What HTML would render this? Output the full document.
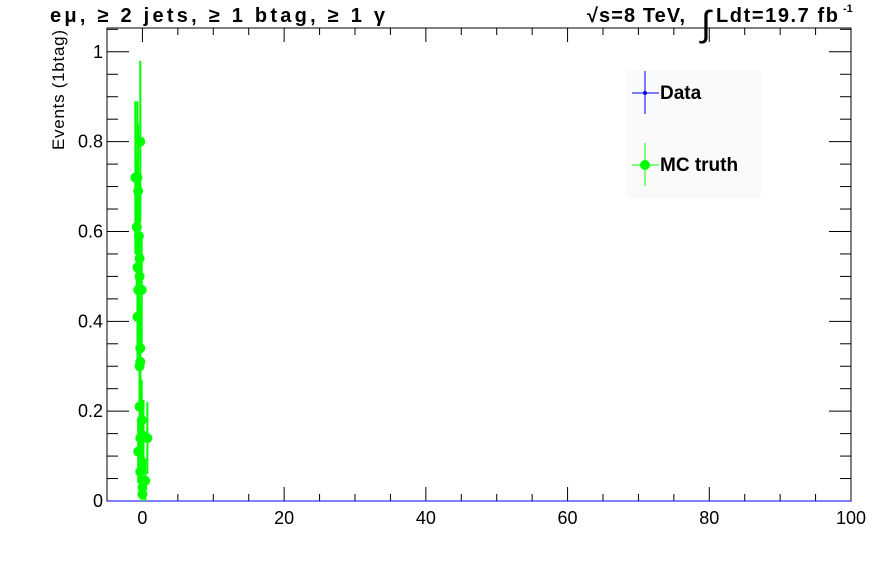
<!DOCTYPE html>
<html><head><meta charset="utf-8"><style>
html,body{margin:0;padding:0;background:#fff;}
svg{display:block;font-family:"Liberation Sans",sans-serif;}
</style></head><body>
<svg id="c" width="896" height="572" xmlns="http://www.w3.org/2000/svg">
<rect x="0" y="0" width="896" height="572" fill="#fff"/>
<text x="50" y="22" font-size="20" font-weight="bold" textLength="335" lengthAdjust="spacing">eμ, ≥ 2 jets, ≥ 1 btag, ≥ 1 γ</text>
<text x="587" y="22" font-size="20" font-weight="bold" textLength="98" lengthAdjust="spacing">√s=8 TeV,</text>
<text x="701" y="36" font-size="36">∫</text>
<text x="716" y="22" font-size="20" font-weight="bold" textLength="122" lengthAdjust="spacing">Ldt=19.7 fb</text>
<text x="843" y="12" font-size="11" font-weight="bold">-1</text>
<text transform="translate(64,150) rotate(-90)" font-size="17" textLength="120" lengthAdjust="spacing">Events (1btag)</text>
<g id="axes"></g>
<g id="marks"></g>
<g>
<rect x="627" y="70" width="134" height="128" fill="#fafafa"/>
<line x1="632" y1="93" x2="659" y2="93" stroke="#00f"/>
<line x1="645" y1="71" x2="645" y2="114" stroke="#00f"/>
<circle cx="645" cy="93" r="2" fill="#00f"/>
<text x="660" y="99" font-size="19" font-weight="bold">Data</text>
<line x1="632" y1="165" x2="659" y2="165" stroke="#0f0"/>
<line x1="645" y1="143" x2="645" y2="186" stroke="#0f0"/>
<circle cx="645" cy="165" r="5" fill="#0f0"/>
<text x="660" y="171" font-size="19" font-weight="bold">MC truth</text>
</g>
</svg>
<script>
const xTicks=[0,20,40,60,80,100];
const yTicks=[0,0.2,0.4,0.6,0.8,1];
const yTickLabels=["0","0.2","0.4","0.6","0.8","1"];
const mcX=[-0.3,-0.7,-1.0,-0.6,-0.8,-0.5,-0.4,-0.7,-0.4,-0.6,-0.1,-0.7,-0.3,-0.3,-0.4,-0.4,-0.1,0.15,-0.3,0.7,-0.6,-0.3,0.0,0.4,0.0,0.0];
const mcY=[0.80,0.72,0.72,0.69,0.61,0.59,0.54,0.52,0.50,0.47,0.47,0.41,0.34,0.31,0.30,0.21,0.18,0.145,0.14,0.14,0.11,0.065,0.045,0.045,0.03,0.015];
const mcErr=[0.18,0.17,0.17,0.15,0.15,0.14,0.13,0.13,0.12,0.12,0.12,0.12,0.1,0.1,0.1,0.09,0.09,0.08,0.08,0.08,0.07,0.06,0.05,0.05,0.04,0.03];
const L=107,R=851,T=28,B=501;
const X0=-5,X1=100,Y0=0,Y1=1.053;
const sx=v=>L+(v-X0)/(X1-X0)*(R-L);
const sy=v=>B-(v-Y0)/(Y1-Y0)*(B-T);
const NS="http://www.w3.org/2000/svg";
function mk(t,a,p){const e=document.createElementNS(NS,t);for(const k in a)e.setAttribute(k,a[k]);p.appendChild(e);return e;}
const ax=document.getElementById('axes');
const fr=mk('rect',{x:L,y:T,width:R-L,height:B-T,fill:'none',stroke:'#000'},ax);


for(let v=X0;v<=X1;v+=5){const maj=v%20===0;const len=maj?14:7;
mk('line',{x1:sx(v),y1:B,x2:sx(v),y2:B-len,stroke:'#000'},ax);
mk('line',{x1:sx(v),y1:T,x2:sx(v),y2:T+len,stroke:'#000'},ax);}
xTicks.forEach(v=>{const t=mk('text',{x:sx(v),y:B+23,'font-size':18,'text-anchor':'middle'},ax);t.textContent=v;

});
for(let i=0;i<=21;i++){const v=i*0.05;if(v>Y1)break;const maj=i%4===0;const len=maj?22:11;
mk('line',{x1:L,y1:sy(v),x2:L+len,y2:sy(v),stroke:'#000'},ax);
mk('line',{x1:R,y1:sy(v),x2:R-len,y2:sy(v),stroke:'#000'},ax);}
yTicks.forEach((v,i)=>{const t=mk('text',{x:L-4,y:sy(v)+6,'font-size':18,'text-anchor':'end'},ax);t.textContent=yTickLabels[i];

});
const mg=document.getElementById('marks');
const dl=mk('line',{x1:L,y1:sy(0),x2:R,y2:sy(0),stroke:'#00f'},mg);


mcX.forEach((x,i)=>{const g=mk('g',{},mg);


mk('line',{x1:sx(x),y1:sy(Math.max(0,mcY[i]-mcErr[i])),x2:sx(x),y2:sy(mcY[i]+mcErr[i]),stroke:'#0f0','stroke-width':2},g);
mk('circle',{cx:sx(x),cy:sy(mcY[i]),r:5,fill:'#0f0'},g);});
</script>
</body></html>
